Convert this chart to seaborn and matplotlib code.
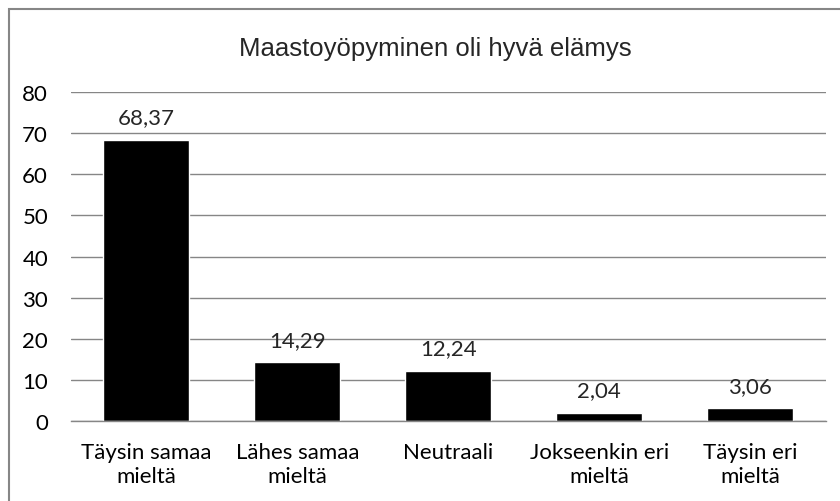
import pandas as pd
import matplotlib.pyplot as plt
import matplotlib.patches as mpatches
import seaborn as sns

# chart data
categories = ['Täysin samaa\nmieltä', 'Lähes samaa\nmieltä', 'Neutraali',
              'Jokseenkin eri\nmieltä', 'Täysin eri\nmieltä']
values = [68.37, 14.29, 12.24, 2.04, 3.06]
y_ticks = [0, 10, 20, 30, 40, 50, 60, 70, 80]
title = 'Maastoyöpyminen oli hyvä elämys'

df = pd.DataFrame({'vastaus': categories, 'osuus': values})

sns.set_style('white')
plt.rcParams['font.family'] = ['Lato', 'DejaVu Sans']

fig = plt.figure(figsize=(8.4, 5.02), dpi=100)
ax = fig.add_axes([0.0845, 0.1594, 0.8985, 0.6553])

sns.barplot(data=df, x='vastaus', y='osuus', color='black', width=0.57,
            saturation=1, ax=ax)

# data labels with decimal comma
labels = [f'{v:.2f}'.replace('.', ',') for v in values]
ax.bar_label(ax.containers[0], labels=labels, padding=9, fontsize=16)

ax.set_ylim(0, 80)
ax.set_yticks(y_ticks)
ax.set_xlim(-0.5, len(categories) - 0.5)
ax.yaxis.grid(True, color='#868686', linewidth=1)
ax.set_axisbelow(True)
for side in ['top', 'right', 'left']:
    ax.spines[side].set_visible(False)
ax.spines['bottom'].set_color('#868686')
ax.spines['bottom'].set_linewidth(1)
ax.tick_params(axis='both', length=0, labelsize=16, colors='black')
ax.tick_params(axis='y', pad=16.5)
ax.tick_params(axis='x', pad=15)
for lab in ax.get_xticklabels():
    lab.set_linespacing(1.27)
ax.set_xlabel('')
ax.set_ylabel('')

fig.text(435 / 840, 1 - 56 / 502, title, ha='center', va='baseline',
         fontsize=18.5, family=['Liberation Sans', 'DejaVu Sans'])

# chart border (runs off the right and bottom edge)
fig.patches.append(mpatches.Rectangle((9 / 840, -0.1), 1.0, 1 - 10 / 502 + 0.1,
                                      transform=fig.transFigure, fill=False,
                                      edgecolor='#868686', linewidth=1.5))

fig.savefig('out.png', dpi=100)
